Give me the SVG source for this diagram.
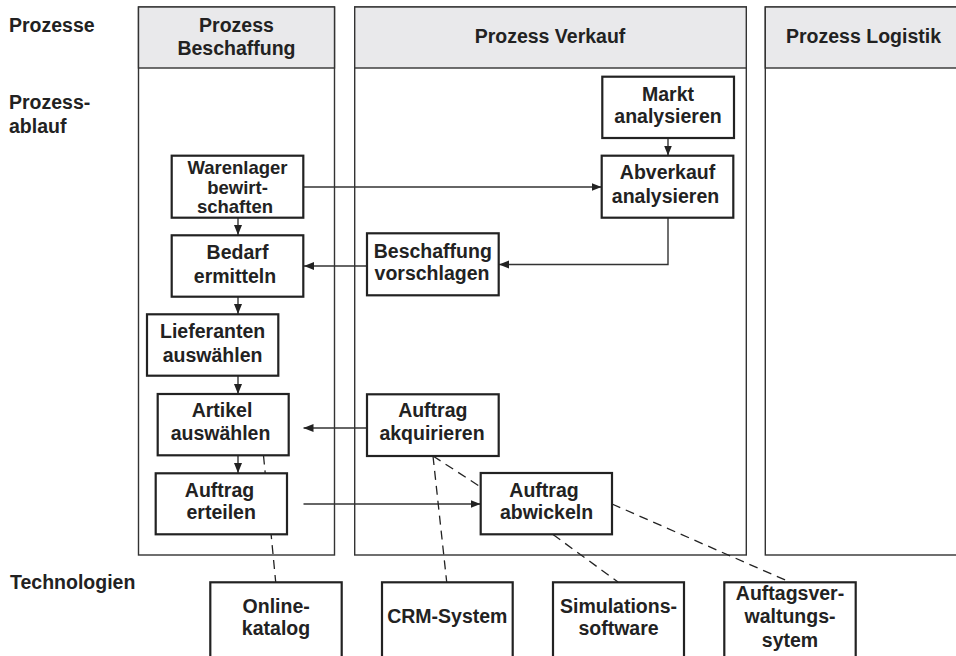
<svg xmlns="http://www.w3.org/2000/svg" width="956" height="656" viewBox="0 0 956 656">
<style>
text{font-family:"Liberation Sans",Arial,sans-serif;font-weight:bold;font-size:19.5px;fill:#222;text-anchor:middle}
.lbl{text-anchor:start}
.tight{font-size:18.5px}
.lane{fill:#fff;stroke:#333;stroke-width:1.4}
.hdr{fill:#e9e9eb;stroke:#333;stroke-width:1.4}
.box{fill:#fff;stroke:#222;stroke-width:2.2}
.c{fill:none;stroke:#333;stroke-width:1.4}
.a{marker-end:url(#ah)}
.d{fill:none;stroke:#222;stroke-width:1.3;stroke-dasharray:9 6}
</style>
<defs>
<marker id="ah" markerUnits="userSpaceOnUse" markerWidth="10" markerHeight="10" viewBox="0 0 10 10" refX="10" refY="5" orient="auto">
<path d="M0,1 L10,5 L0,9 Z" fill="#222"/>
</marker>
</defs>
<g id="labels">
<text class="lbl" x="9" y="32">Prozesse</text>
<text class="lbl" x="9" y="109">Prozess-</text>
<text class="lbl" x="9" y="133">ablauf</text>
<text class="lbl" x="10" y="589">Technologien</text>
</g>
<g id="lane-beschaffung">
<rect class="lane" x="138.5" y="7" width="196" height="548"/>
<rect class="hdr" x="138.5" y="7" width="196" height="61"/>
<text x="236.5" y="32">Prozess</text>
<text x="236.5" y="55">Beschaffung</text>
</g>
<g id="lane-verkauf">
<rect class="lane" x="354.7" y="7" width="391.6" height="548"/>
<rect class="hdr" x="354.7" y="7" width="391.6" height="61"/>
<text x="550" y="43">Prozess Verkauf</text>
</g>
<g id="lane-logistik">
<rect class="lane" x="765.3" y="7" width="200" height="548"/>
<rect class="hdr" x="765.3" y="7" width="200" height="61"/>
<text x="863.5" y="43">Prozess Logistik</text>
</g>
<g id="connectors">
<line class="c a" x1="238" y1="218" x2="238" y2="235"/>
<line class="c a" x1="238" y1="297" x2="238" y2="314"/>
<line class="c a" x1="238" y1="376" x2="238" y2="394"/>
<line class="c a" x1="238" y1="455.5" x2="238" y2="473"/>
<line class="c a" x1="303.5" y1="187" x2="601.5" y2="187"/>
<line class="c a" x1="668" y1="138" x2="668" y2="155.5"/>
<polyline class="c a" points="668,218 668,264.5 499,264.5"/>
<line class="c a" x1="367" y1="266" x2="304" y2="266"/>
<line class="c a" x1="367" y1="428" x2="303.5" y2="428"/>
<line class="c a" x1="303.5" y1="504" x2="480.5" y2="504"/>
<line class="d" x1="263.5" y1="455.5" x2="275.7" y2="582"/>
<line class="d" x1="433" y1="456" x2="446.7" y2="582"/>
<line class="d" x1="433" y1="456" x2="480.7" y2="487"/>
<line class="d" x1="553" y1="534.5" x2="618" y2="582"/>
<line class="d" x1="612" y1="504" x2="789.7" y2="582"/>
</g>
<g id="n-warenlager">
<rect class="box" x="171.7" y="155.7" width="131.6" height="62"/>
<text class="tight" x="237.5" y="174">Warenlager</text>
<text class="tight" x="237.5" y="193.5">bewirt-</text>
<text class="tight" x="235" y="212.5">schaften</text>
</g>
<g id="n-bedarf">
<rect class="box" x="171.7" y="235.3" width="131.6" height="61.4"/>
<text x="237.5" y="259">Bedarf</text>
<text x="235" y="282.7">ermitteln</text>
</g>
<g id="n-lieferanten">
<rect class="box" x="147" y="314.3" width="131.3" height="61.4"/>
<text x="212.6" y="338.3">Lieferanten</text>
<text x="212.6" y="361.7">auswählen</text>
</g>
<g id="n-artikel">
<rect class="box" x="157.7" y="394" width="131" height="61.3"/>
<text x="222" y="417.3">Artikel</text>
<text x="220.5" y="440">auswählen</text>
</g>
<g id="n-auftrag-erteilen">
<rect class="box" x="155.7" y="473.3" width="131.3" height="61"/>
<text x="219.5" y="496.7">Auftrag</text>
<text x="221.2" y="519.3">erteilen</text>
</g>
<g id="n-markt">
<rect class="box" x="602.3" y="76.7" width="131.7" height="61.3"/>
<text x="668" y="100.7">Markt</text>
<text x="668" y="123.3">analysieren</text>
</g>
<g id="n-abverkauf">
<rect class="box" x="601.7" y="155.7" width="131.6" height="62"/>
<text x="667.5" y="179.3">Abverkauf</text>
<text x="665.5" y="203.3">analysieren</text>
</g>
<g id="n-beschaffung">
<rect class="box" x="367" y="233.3" width="131.7" height="62"/>
<text x="432.8" y="258.3">Beschaffung</text>
<text x="432" y="280">vorschlagen</text>
</g>
<g id="n-akquirieren">
<rect class="box" x="367" y="394.3" width="131.7" height="61.7"/>
<text x="432.8" y="417.3">Auftrag</text>
<text x="432" y="440">akquirieren</text>
</g>
<g id="n-abwickeln">
<rect class="box" x="480.7" y="473" width="131.3" height="61.3"/>
<text x="544" y="496.7">Auftrag</text>
<text x="546.5" y="519.3">abwickeln</text>
</g>
<g id="t-onlinekatalog">
<rect class="box" x="210.3" y="582.3" width="131.4" height="80"/>
<text x="276.2" y="613.3">Online-</text>
<text x="276" y="635">katalog</text>
</g>
<g id="t-crm">
<rect class="box" x="382" y="582.3" width="130.7" height="80"/>
<text x="447.3" y="623.3">CRM-System</text>
</g>
<g id="t-simulation">
<rect class="box" x="553" y="582.3" width="131" height="80"/>
<text x="618.5" y="613.3">Simulations-</text>
<text x="618.5" y="635">software</text>
</g>
<g id="t-auftragsverwaltung">
<rect class="box" x="724.3" y="582.3" width="131.4" height="80"/>
<text x="790" y="600">Auftagsver-</text>
<text x="790" y="623.3">waltungs-</text>
<text x="790" y="646.7">sytem</text>
</g>
</svg>
